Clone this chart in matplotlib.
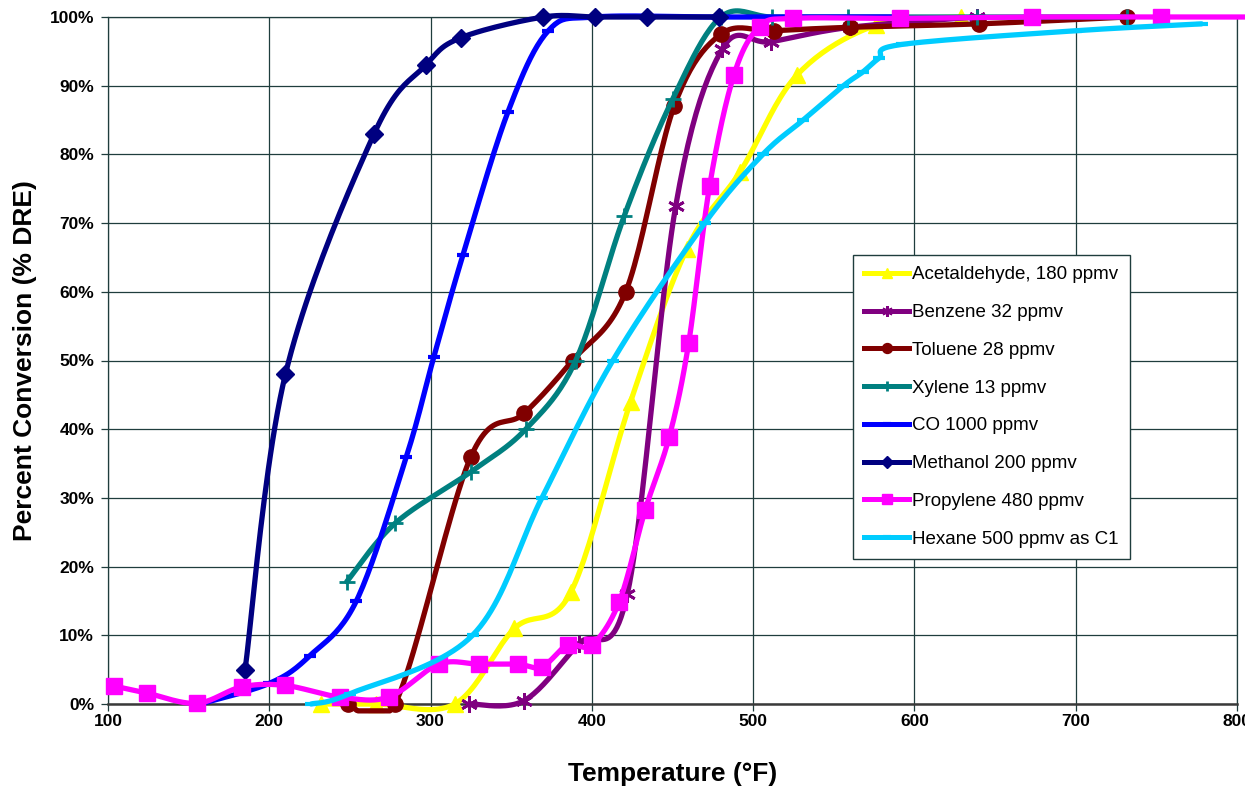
import numpy as np
import matplotlib
matplotlib.use('Agg')
import matplotlib.pyplot as plt
from matplotlib.lines import Line2D
from matplotlib.ticker import FuncFormatter

plt.rcParams['font.family'] = ['Liberation Sans', 'DejaVu Sans']

# --- data (temperature in F, conversion in %) ---
acet_temp = [232, 266, 315, 352, 387, 424, 459, 492, 527, 576, 629]
acet_pct = [0, 0, 0, 11, 16.3, 44, 66.3, 77.5, 91.5, 98.8, 100]

benz_temp = [324, 358, 392, 422, 452, 481, 511, 560, 639]
benz_pct = [0, 0.5, 8.8, 16, 72.5, 95.4, 96.4, 98.5, 100]

tol_temp = [249, 278, 325, 358, 388, 421, 451, 480, 513, 560, 640, 732]
tol_pct = [0, 0, 36, 42.3, 50, 60, 87, 97.5, 98, 98.5, 99, 100]

xyl_temp = [248, 278, 325, 359, 390, 420, 450, 480, 512, 559, 639, 732]
xyl_pct = [17.8, 26.3, 33.8, 40, 50, 71, 88, 100, 100, 100, 100, 100]

co_temp = [157, 200, 225, 254, 285, 302, 320, 348, 373, 402, 479, 590]
co_pct = [0, 3, 7, 15, 36, 50.5, 65.3, 86.2, 98, 100, 100, 100]

meth_temp = [185, 210, 265, 297, 319, 370, 402, 434, 479]
meth_pct = [5, 48, 83, 93, 97, 100, 100, 100, 100]

prop_temp = [104, 124, 155, 183, 210, 244, 274, 305, 330, 354, 369, 385, 400,
             417, 433, 448, 460, 473, 488, 504, 525, 591, 673, 753, 820]
prop_pct = [2.6, 1.6, 0.1, 2.5, 2.7, 1, 1, 5.8, 5.8, 5.8, 5.4, 8.6, 8.6,
            14.9, 28.2, 38.9, 52.5, 75.4, 91.5, 98.6, 99.8, 99.8, 100, 100, 100]

hex_temp = [226, 250, 326, 369, 413, 470, 506, 531, 556, 568, 578, 592, 700, 778]
hex_pct = [0, 1.5, 10, 30, 50, 70, 80, 85, 90, 92, 94, 96, 98, 99]

x_ticks = [100, 200, 300, 400, 500, 600, 700, 800]
y_ticks = [0, 10, 20, 30, 40, 50, 60, 70, 80, 90, 100]


def excel_smooth(xs, ys, n=24):
    """Bezier smoothing roughly like Excel's 'smoothed line'."""
    pts = np.column_stack([xs, ys]).astype(float)
    out = [pts[0]]
    t = np.linspace(0, 1, n)[1:, None]
    for i in range(len(pts) - 1):
        p0 = pts[max(i - 1, 0)]
        p1, p2 = pts[i], pts[i + 1]
        p3 = pts[min(i + 2, len(pts) - 1)]
        b1 = p1 + (p2 - p0) / 6
        b2 = p2 - (p3 - p1) / 6
        seg = ((1 - t) ** 3 * p1 + 3 * (1 - t) ** 2 * t * b1
               + 3 * (1 - t) * t ** 2 * b2 + t ** 3 * p2)
        lo, hi = min(p1[1], p2[1]) - 1, max(p1[1], p2[1]) + 1
        seg[:, 1] = np.clip(seg[:, 1], lo, hi)
        out.extend(seg)
    arr = np.array(out)
    return arr[:, 0], arr[:, 1]


series = [
    ('Acetaldehyde, 180 ppmv', acet_temp, acet_pct, '#ffff00', '^', 11, 1),
    ('Benzene 32 ppmv', benz_temp, benz_pct, '#800080', (6, 2, 0), 12, 2),
    ('Toluene 28 ppmv', tol_temp, tol_pct, '#800000', 'o', 11, 1),
    ('Xylene 13 ppmv', xyl_temp, xyl_pct, '#008080', '+', 12, 2),
    ('CO 1000 ppmv', co_temp, co_pct, '#0000ff', '_', 9, 3),
    ('Methanol 200 ppmv', meth_temp, meth_pct, '#000080', 'D', 9, 1),
    ('Propylene 480 ppmv', prop_temp, prop_pct, '#ff00ff', 's', 11, 1),
    ('Hexane 500 ppmv as C1', hex_temp, hex_pct, '#00ccff', '_', 9, 3),
]

fig = plt.figure(figsize=(12.45, 7.9), dpi=100)
ax = fig.add_axes([108 / 1245, 86 / 790, 1129 / 1245, 687 / 790])

handles = []
for z, (name, xs, ys, col, mk, ms, mew) in enumerate(series):
    sx, sy = excel_smooth(xs, ys)
    ax.plot(sx, sy, color=col, lw=3.8, solid_capstyle='round',
            clip_on=False, zorder=3 + z)
    ax.plot(xs, ys, ls='none', marker=mk, ms=ms, mew=mew, color=col,
            mec=col, mfc=col, clip_on=False, zorder=3 + z)
    handles.append(Line2D([], [], color=col, lw=3.6, marker=mk, ms=ms * 0.65,
                          mew=mew, mec=col, mfc=col, label=name))

ax.set_xlim(100, 800)
ax.set_ylim(0, 100)
ax.set_xticks(x_ticks)
ax.set_yticks(y_ticks)
ax.yaxis.set_major_formatter(FuncFormatter(lambda v, _: f'{v:.0f}%'))
ax.grid(True, color='#1f3d3d', lw=0.9, zorder=1)
ax.set_axisbelow(True)
for s in ax.spines.values():
    s.set_color('#1f3d3d')
    s.set_linewidth(0.9)
ax.spines['bottom'].set_linewidth(1.8)
ax.spines['bottom'].set_color('#3a3a3a')
ax.tick_params(axis='both', length=5, width=0.9, color='#1f3d3d',
               labelsize=12.5)
ax.tick_params(axis='x', pad=2)
ax.tick_params(axis='y', pad=5)
for lab in ax.get_xticklabels() + ax.get_yticklabels():
    lab.set_fontweight('bold')

ax.set_xlabel('Temperature (°F)', fontsize=19, fontweight='bold', labelpad=24)
ax.set_ylabel('Percent Conversion (% DRE)', fontsize=19, fontweight='bold',
              labelpad=9)

leg = ax.legend(handles=handles, loc='upper left',
                bbox_to_anchor=(0.66, 0.6536), borderaxespad=0,
                fontsize=13.5, frameon=True, fancybox=False,
                edgecolor='#1f3d3d', framealpha=1, labelspacing=1.1,
                handlelength=2.4, handletextpad=0.15, borderpad=0.6)
leg.get_frame().set_linewidth(1.0)
leg.set_zorder(20)

fig.savefig('out.png', dpi=100)
